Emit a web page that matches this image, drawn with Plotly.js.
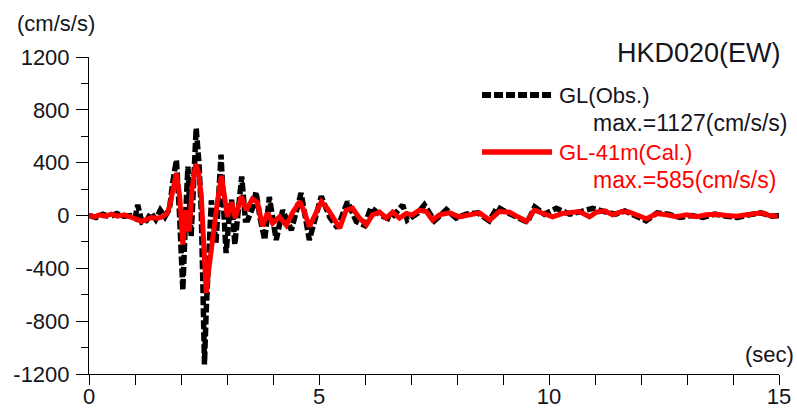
<!DOCTYPE html>
<html>
<head>
<meta charset="utf-8">
<script src="https://cdn.plot.ly/plotly-3.0.1.min.js"></script>
<style>html,body{margin:0;padding:0;background:#fff;}#chart{width:797px;height:410px;}</style>
</head>
<body>
<div id="chart"></div>
<script>
// Observed acceleration (GL, Obs.) — time (s) and value (cm/s/s)
var tObs = [0,0.15,0.3,0.45,0.6,0.75,0.9,1.0,1.06,1.15,1.25,1.35,1.45,1.55,1.65,1.75,1.82,1.9,1.97,2.04,2.1,2.15,2.22,2.28,2.33,2.39,2.44,2.48,2.51,2.55,2.6,2.66,2.76,2.81,2.87,2.92,2.98,3.05,3.1,3.17,3.25,3.32,3.4,3.45,3.56,3.63,3.72,3.82,3.92,4.07,4.21,4.4,4.61,4.79,5.05,5.23,5.4,5.62,5.81,5.99,6.13,6.35,6.55,6.82,6.92,7.15,7.29,7.51,7.77,7.98,8.2,8.45,8.7,8.88,9.1,9.3,9.53,9.69,9.9,10.16,10.45,10.7,10.95,11.2,11.45,11.65,11.9,12.11,12.35,12.6,12.85,13.1,13.35,13.6,13.85,14.1,14.35,14.6,14.85,15.0];
var aObs = [0,-15,10,-10,15,-5,0,-20,80,-50,-40,20,-30,40,-10,50,250,420,0,-565,0,370,-160,200,660,400,40,-600,-1127,-700,-300,115,-210,100,460,100,-285,0,120,-220,100,295,-35,-35,60,180,-20,-185,140,-185,40,-110,170,-185,145,-10,-95,105,-45,-75,60,0,-30,80,-35,20,80,-40,45,-20,10,20,-40,65,20,-10,-50,65,10,55,10,30,55,30,10,35,-10,-40,20,10,-15,0,-15,10,-5,-15,5,20,-5,0];

// Calculated acceleration (GL-41m, Cal.) — time (s) and value (cm/s/s)
var tCal = [0,0.12,0.23,0.34,0.49,0.62,0.77,0.92,1.05,1.14,1.25,1.36,1.49,1.6,1.71,1.77,1.9,1.97,2.04,2.11,2.18,2.24,2.32,2.38,2.44,2.49,2.55,2.6,2.66,2.73,2.79,2.88,2.95,3.01,3.1,3.18,3.31,3.42,3.55,3.66,3.77,3.88,3.99,4.14,4.29,4.42,4.58,4.68,4.79,4.94,5.05,5.18,5.29,5.45,5.59,5.73,5.88,6.03,6.16,6.32,6.46,6.6,6.75,6.9,7.03,7.18,7.33,7.47,7.62,7.84,8.05,8.27,8.49,8.71,8.92,9.14,9.36,9.51,9.68,9.86,10.08,10.29,10.45,10.66,10.88,11.03,11.21,11.38,11.58,11.75,12.12,12.34,12.55,12.77,12.99,13.21,13.42,13.64,13.86,14.08,14.29,14.51,14.64,14.79,14.97];
var aCal = [0,-10,5,-5,10,-5,5,-10,-30,-45,-30,-15,-20,-10,20,100,320,150,-220,40,-120,200,390,330,150,-250,-585,-420,-230,-90,100,300,160,-10,100,-20,145,40,125,100,-80,20,-60,-10,-75,20,105,30,-85,20,105,55,-10,-95,40,55,-20,-70,5,25,-20,25,-20,15,5,40,30,-35,5,20,-10,5,20,-35,30,25,-20,-45,40,15,-10,15,20,30,-10,25,35,5,30,25,-25,15,5,-10,5,-10,5,10,0,-5,5,20,20,0,-5];

var xTickVals = [0,5,10,15];
var xTickText = ['0','5','10','15'];
var yTickVals = [-1200,-800,-400,0,400,800,1200];
var yTickText = ['-1200','-800','-400','0','400','800','1200'];

var FONT = 'Liberation Sans, Arial, sans-serif';
var TXT = '#151520';

var traces = [
  {x: tObs, y: aObs, type: 'scatter', mode: 'lines', name: 'GL(Obs.)',
   line: {color: '#000000', width: 5.5, dash: '9px,3px'}, hoverinfo: 'skip'},
  {x: tCal, y: aCal, type: 'scatter', mode: 'lines', name: 'GL-41m(Cal.)',
   line: {color: '#ff0000', width: 5}, hoverinfo: 'skip'}
];

var layout = {
  width: 797, height: 410,
  margin: {l: 89, r: 18, t: 57, b: 36, pad: 0},
  paper_bgcolor: '#ffffff', plot_bgcolor: '#ffffff',
  showlegend: false,
  font: {family: FONT, size: 22, color: TXT},
  xaxis: {
    range: [0, 15], showgrid: false, zeroline: false, showline: true,
    linecolor: '#000', linewidth: 1,
    tickmode: 'array', tickvals: xTickVals, ticktext: xTickText,
    ticks: 'outside', ticklen: 10, tickcolor: '#000', tickwidth: 1,
    ticklabelstandoff: -7,
    tickfont: {family: FONT, size: 22, color: TXT},
    minor: {tickmode: 'linear', tick0: 0, dtick: 1, ticks: 'outside', ticklen: 10, tickcolor: '#000', tickwidth: 1, showgrid: false}
  },
  yaxis: {
    range: [-1200, 1200], showgrid: false, zeroline: false, showline: true,
    linecolor: '#000', linewidth: 1,
    tickmode: 'array', tickvals: yTickVals, ticktext: yTickText,
    ticks: 'outside', ticklen: 12, tickcolor: '#000', tickwidth: 1,
    ticklabelstandoff: 2,
    tickfont: {family: FONT, size: 22, color: TXT},
    minor: {tickmode: 'linear', tick0: 0, dtick: 200, ticks: 'outside', ticklen: 7, tickcolor: '#000', tickwidth: 1, showgrid: false}
  },
  shapes: [
    {type: 'line', xref: 'paper', yref: 'paper', x0: 0.5696, x1: 0.671, y0: 0.880, y1: 0.880,
     line: {color: '#000', width: 6, dash: '9px,3px'}},
    {type: 'line', xref: 'paper', yref: 'paper', x0: 0.5696, x1: 0.671, y0: 0.700, y1: 0.700,
     line: {color: '#ff0000', width: 5.5}}
  ],
  annotations: [
    {text: '(cm/s/s)', xref: 'paper', yref: 'paper', x: -0.048, y: 1.107, xanchor: 'center', yanchor: 'middle', showarrow: false, font: {family: FONT, size: 22, color: TXT}},
    {text: 'HKD020(EW)', xref: 'paper', yref: 'paper', x: 1.006, y: 1.013, xanchor: 'right', yanchor: 'middle', showarrow: false, font: {family: FONT, size: 27, color: TXT}},
    {text: '(sec)', xref: 'paper', yref: 'paper', x: 1.025, y: 0.06, xanchor: 'right', yanchor: 'middle', showarrow: false, font: {family: FONT, size: 22, color: TXT}},
    {text: 'GL(Obs.)', xref: 'paper', yref: 'paper', x: 0.678, y: 0.880, xanchor: 'left', yanchor: 'middle', showarrow: false, font: {family: FONT, size: 22, color: TXT}},
    {text: 'max.=1127(cm/s/s)', xref: 'paper', yref: 'paper', x: 0.728, y: 0.792, xanchor: 'left', yanchor: 'middle', showarrow: false, font: {family: FONT, size: 23, color: TXT}},
    {text: 'GL-41m(Cal.)', xref: 'paper', yref: 'paper', x: 0.678, y: 0.700, xanchor: 'left', yanchor: 'middle', showarrow: false, font: {family: FONT, size: 22, color: '#ff0000'}},
    {text: 'max.=585(cm/s/s)', xref: 'paper', yref: 'paper', x: 0.728, y: 0.612, xanchor: 'left', yanchor: 'middle', showarrow: false, font: {family: FONT, size: 23, color: '#ff0000'}}
  ]
};

Plotly.newPlot('chart', traces, layout, {displayModeBar: false, staticPlot: true});
</script>
</body>
</html>
